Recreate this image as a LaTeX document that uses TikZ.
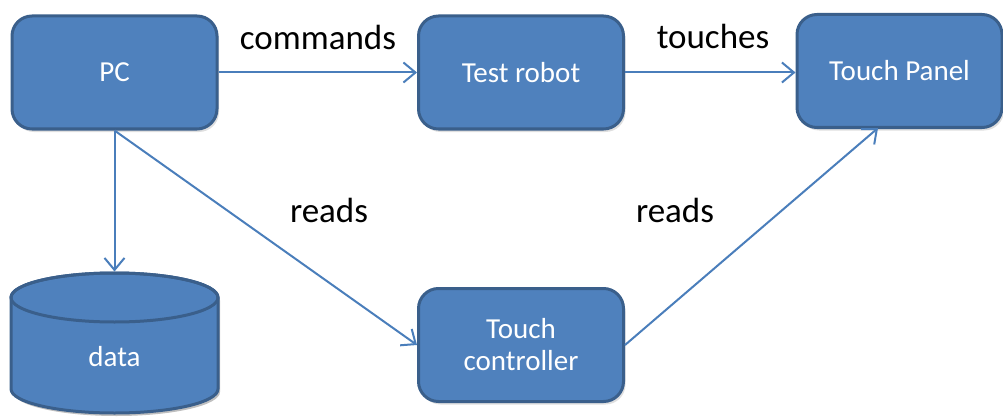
\documentclass[tikz,border=0pt]{standalone}
\usepackage{fontspec}
\setmainfont{Carlito}
\usetikzlibrary{arrows.meta,shadows}
\definecolor{boxfill}{HTML}{4F81BD}
\definecolor{boxline}{HTML}{3A5F8B}
\definecolor{arrowc}{HTML}{4A7EBB}
\begin{document}
\begin{tikzpicture}[x=1pt,y=-1pt,
  shbox/.style={draw=boxline, line width=3pt, fill=boxfill, rounded corners=20pt,
    minimum width=205pt, minimum height=113pt, inner sep=0pt,
    text=white, font=\fontsize{29}{34}\selectfont, align=center,
    drop shadow={opacity=0.25, shadow xshift=2pt, shadow yshift=-3pt}},
  conn/.style={draw=arrowc, line width=2pt, -{Straight Barb[length=12pt,width=20pt,line width=2pt]}},
  lbl/.style={font=\fontsize{35}{40}\selectfont, text=black, anchor=base, inner sep=0pt}]
\useasboundingbox (0,0) rectangle (1003,417);
\node[shbox] (pc) at (114.5,72.5) {PC};
\node[shbox] (tr) at (521,72.5) {Test robot};
\node[shbox] (tp) at (899.5,71) {Touch Panel};
\node[shbox] (tc) at (521,345) {Touch\\[-2pt]controller};
% cylinder
\fill[black, opacity=0.25] (13,300.5) -- (13,392) arc[start angle=180,end angle=360,x radius=103.5pt,y radius=24pt] -- (220,300.5) arc[start angle=0,end angle=180,x radius=103.5pt,y radius=24.5pt] -- cycle;
\filldraw[draw=boxline, line width=3pt, fill=boxfill] (11,297.5) -- (11,389) arc[start angle=180,end angle=360,x radius=103.5pt,y radius=24pt] -- (218,297.5) arc[start angle=0,end angle=180,x radius=103.5pt,y radius=24.5pt] -- cycle;
\draw[draw=boxline, line width=3pt] (114.5,297.5) ellipse[x radius=103.5pt, y radius=24.5pt];
\node[text=white, font=\fontsize{29}{34}\selectfont] (data) at (114.5,357) {data};
\coordinate (datatop) at (114.5,271.5);
\coordinate (tpin) at (878,128);
% connectors
\draw[conn] (pc.east) -- (tr.west);
\draw[conn] (tr.east) -- (tp.west |- tr.east);
\draw[conn] (pc.south) -- (datatop);
\draw[conn] (pc.south) -- (tc.west);
\draw[conn] (tc.east) -- (tpin);
% labels
\node[lbl] (l1) at (318,50) {commands};
\node[lbl] (l2) at (713,49) {touches};
\node[lbl] (l3) at (329,222) {reads};
\node[lbl] (l4) at (675,222) {reads};
\end{tikzpicture}
\end{document}
